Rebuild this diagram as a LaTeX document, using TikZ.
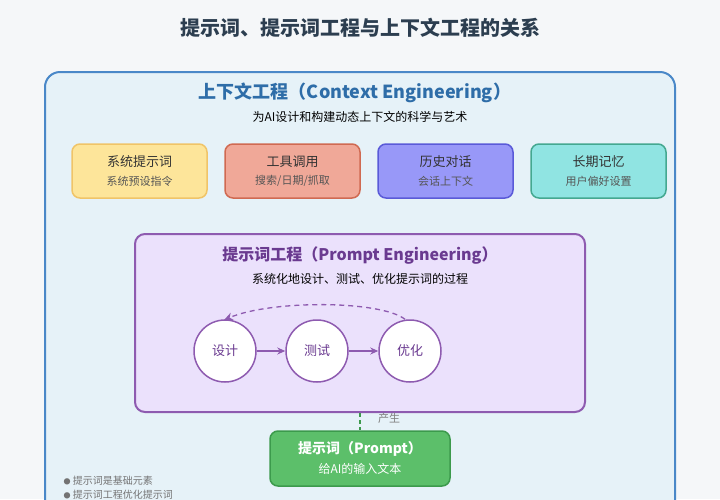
\documentclass[tikz,border=0pt]{standalone}
\usepackage{fontspec}
\setmainfont{Noto Sans CJK SC}
\usetikzlibrary{arrows.meta}
\definecolor{bg}{HTML}{F5F7F9}
\definecolor{outerfill}{HTML}{E6F2F8}
\definecolor{outerdraw}{HTML}{4A88C8}
\definecolor{titlec}{HTML}{2C3E50}
\definecolor{ctxc}{HTML}{2E6DA8}
\definecolor{pfill}{HTML}{EBE1FC}
\definecolor{pdraw}{HTML}{8E5BB0}
\definecolor{ptext}{HTML}{6A3A90}
\definecolor{gfill}{HTML}{5CBF6A}
\definecolor{gdraw}{HTML}{3C9A4C}
\definecolor{y1}{HTML}{FDE59A}\definecolor{y2}{HTML}{F0C468}
\definecolor{r1}{HTML}{F0A898}\definecolor{r2}{HTML}{D06A52}
\definecolor{b1}{HTML}{9898F8}\definecolor{b2}{HTML}{5A5AD8}
\definecolor{t1}{HTML}{90E4E2}\definecolor{t2}{HTML}{44A890}
\definecolor{subc}{HTML}{555555}
\begin{document}
\begin{tikzpicture}[x=1pt,y=-1pt,
  card/.style={rounded corners=8pt,line width=1.5pt},
  cardt/.style={font=\fontsize{13}{15}\selectfont,text=black!80},
  cards/.style={font=\fontsize{11}{13}\selectfont,text=subc},
  stepc/.style={circle,draw=pdraw,fill=white,line width=1.5pt,minimum size=62pt,inner sep=0pt,font=\fontsize{13}{15}\selectfont,text=ptext},
  arr/.style={-{Stealth[length=8pt,width=7pt]},draw=pdraw,line width=1.8pt}]
\useasboundingbox (0,0) rectangle (720,499);
\fill[bg] (0,0) rectangle (720,499);
\node (title) at (360,28) {\fontsize{20}{24}\selectfont\bfseries\color{titlec}提示词、提示词工程与上下文工程的关系};
\draw[outerdraw,line width=2pt,fill=outerfill,rounded corners=15pt] (45,72) rectangle (675,530);
\node (ctx) at (355,93) {\fontsize{18}{22}\selectfont\bfseries\color{ctxc}上下文工程（Context Engineering）};
\node (ctxs) at (360,117) {\fontsize{12}{14}\selectfont 为AI设计和构建动态上下文的科学与艺术};
\foreach \x/\f/\d/\a/\b in {72/y1/y2/系统提示词/系统预设指令,225/r1/r2/工具调用/{搜索/日期/抓取},378/b1/b2/历史对话/会话上下文,531/t1/t2/长期记忆/用户偏好设置}{
  \draw[card,fill=\f,draw=\d] (\x,144) rectangle ++(135,54);
  \node[cardt] at (\x+67.5,162) {\a};
  \node[cards] at (\x+67.5,181) {\b};
}
\draw[pdraw,fill=pfill,line width=2pt,rounded corners=10pt] (135,234) rectangle (585,412);
\node (pe) at (360,256) {\fontsize{16}{20}\selectfont\bfseries\color{ptext}提示词工程（Prompt Engineering）};
\node (pes) at (360,279) {\fontsize{12}{14}\selectfont 系统化地设计、测试、优化提示词的过程};
\node[stepc] (s1) at (225,351) {设计};
\node[stepc] (s2) at (317,351) {测试};
\node[stepc] (s3) at (410,351) {优化};
\draw[arr] (s1) -- (s2);
\draw[arr] (s2) -- (s3);
\draw[-{Stealth[length=9pt,width=8pt]},draw=pdraw,line width=1.3pt,dash pattern=on 5pt off 4pt] (s3.north) ++(-5,0) .. controls (380,300) and (270,300) .. (224,320);
\node[draw=gdraw,fill=gfill,line width=1.5pt,rounded corners=8pt,minimum width=180pt,minimum height=55pt] (pr) at (360,458.5) {};
\node at (360,449) {\fontsize{14}{16}\selectfont\bfseries\color{white}提示词（Prompt）};
\node at (360,469) {\fontsize{12}{14}\selectfont\color{white}给AI的输入文本};
\draw[gdraw,line width=1.5pt,dash pattern=on 4pt off 3pt] (360,413) -- (pr.north);
\node at (389,418) {\fontsize{11}{13}\selectfont\color{gray}产生};
\node[anchor=west] at (60,481) {\fontsize{10}{12}\selectfont\color{gray!90!black}{\fontsize{7}{8}\selectfont ●}\ 提示词是基础元素};
\node[anchor=west] at (60,495) {\fontsize{10}{12}\selectfont\color{gray!90!black}{\fontsize{7}{8}\selectfont ●}\ 提示词工程优化提示词};
\end{tikzpicture}
\end{document}
